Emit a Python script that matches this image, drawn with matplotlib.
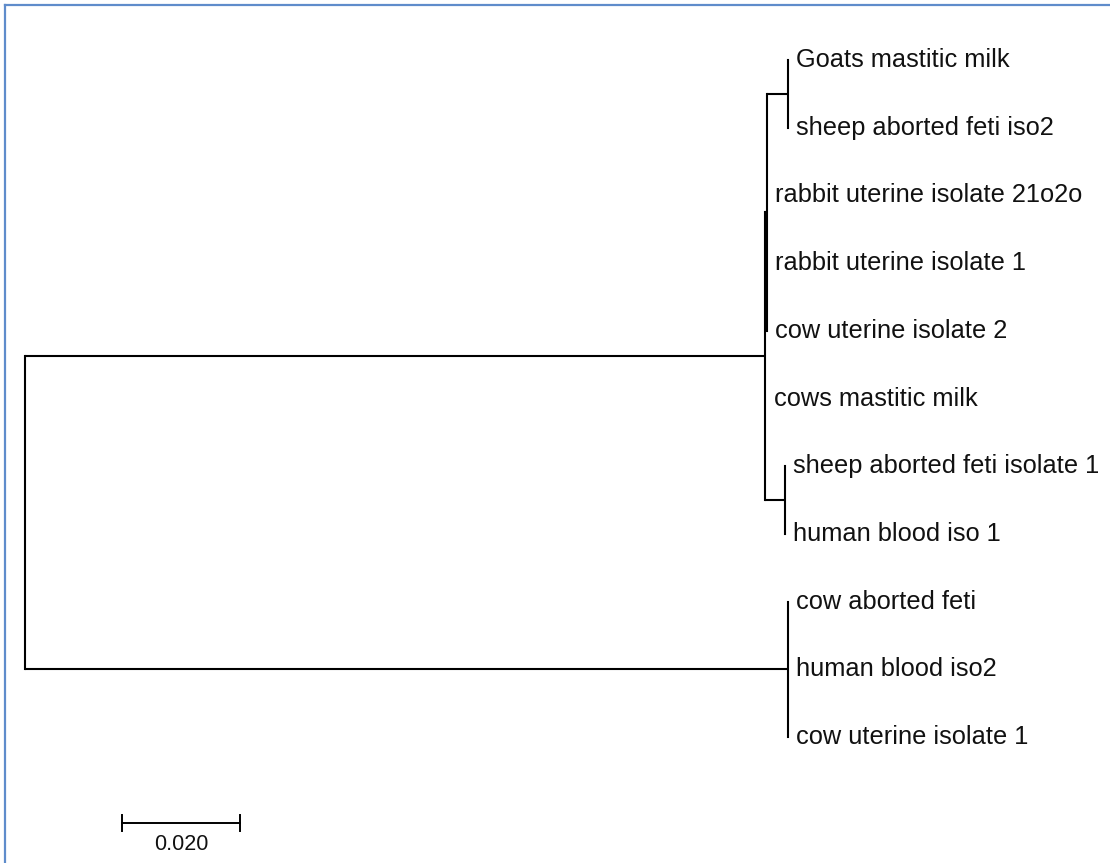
"""Neighbour-joining style tree of isolates, redrawn."""

import matplotlib
matplotlib.use('Agg')
import matplotlib.pyplot as plt
from matplotlib.lines import Line2D

plt.rcParams['font.family'] = ['Liberation Sans', 'DejaVu Sans']

# leaves, top to bottom
leaf_names = ['Goats mastitic milk', 'sheep aborted feti iso2',
              'rabbit uterine isolate 21o2o', 'rabbit uterine isolate 1',
              'cow uterine isolate 2', 'cows mastitic milk',
              'sheep aborted feti isolate 1', 'human blood iso 1',
              'cow aborted feti', 'human blood iso2', 'cow uterine isolate 1']
leaf_parent = ['G', 'G', 'B', 'B', 'B', 'U', 'H', 'H', 'L', 'L', 'L']
leaf_length = [0.0, 0.0, 0.0, 0.0, 0.0, 0.0002, 0.0, 0.0, 0.0, 0.0, 0.0]

# internal nodes
node_names = ['root', 'U', 'B', 'G', 'H', 'L']
node_parent = [None, 'root', 'U', 'B', 'U', 'root']
node_length = [0.0, 0.1254, 0.0003, 0.0036, 0.0034, 0.1293]

scale_len = 0.020
scale_label = '0.020'

# x = distance from root
xpos = {}
for n, p, l in zip(node_names, node_parent, node_length):
    xpos[n] = 0.0 if p is None else xpos[p] + l
leaf_x = [xpos[p] + l for p, l in zip(leaf_parent, leaf_length)]
leaf_y = list(range(len(leaf_names)))

# children y for each internal node (midpoint of first/last child)
child_y = {n: [] for n in node_names}
for y, p in zip(leaf_y, leaf_parent):
    child_y[p].append(y)
ypos = {}
for n in reversed(node_names):
    ys = child_y[n]
    ypos[n] = (min(ys) + max(ys)) / 2
    p = node_parent[node_names.index(n)]
    if p is not None:
        child_y[p].append(ypos[n])

PX = 5900.0   # pixels per unit of distance
ROW = 67.7    # pixels per leaf row
fig = plt.figure(figsize=(11.10, 8.63), dpi=100)
ax = fig.add_axes([0, 0, 1, 1])
ax.set_xlim(-25 / PX, 1085 / PX)
ax.set_ylim((863 - 60) / ROW, -60 / ROW)
ax.axis('off')

LW = 1.5
# horizontal branches
for n, p in zip(node_names, node_parent):
    if p is not None:
        ax.plot([xpos[p], xpos[n]], [ypos[n], ypos[n]], color='black', lw=LW,
                solid_capstyle='butt')
for x, y, p in zip(leaf_x, leaf_y, leaf_parent):
    if x > xpos[p]:
        ax.plot([xpos[p], x], [y, y], color='black', lw=LW, solid_capstyle='butt')
# vertical connectors
for n in node_names:
    ys = child_y[n]
    ax.plot([xpos[n], xpos[n]], [min(ys), max(ys)], color='black', lw=LW,
            solid_capstyle='projecting')

# leaf labels
for name, x, y in zip(leaf_names, leaf_x, leaf_y):
    ax.annotate(name, (x, y), xytext=(6.0, 0), textcoords='offset points',
                ha='left', va='center', fontsize=18.3, color='#111111')

# scale bar
sb_x0 = 97 / PX
sb_y = (823 - 60) / ROW
ax.plot([sb_x0, sb_x0 + scale_len], [sb_y, sb_y], color='black', lw=1.4)
for xx in (sb_x0, sb_x0 + scale_len):
    ax.plot([xx, xx], [sb_y - 8 / ROW, sb_y + 8 / ROW], color='black', lw=1.4)
ax.text(sb_x0 + scale_len / 2, (845 - 60) / ROW, scale_label, ha='center',
        va='center', fontsize=15.5, color='#111111')

# blue frame (top and left edges)
BLUE = '#5f8ccb'
fig.add_artist(Line2D([5 / 1110, 1.0], [1 - 5.5 / 863, 1 - 5.5 / 863],
                      color=BLUE, lw=1.6, transform=fig.transFigure))
fig.add_artist(Line2D([5 / 1110, 5 / 1110], [0.0, 1 - 5.5 / 863],
                      color=BLUE, lw=1.6, transform=fig.transFigure))

fig.savefig('out.png', dpi=100, facecolor='white')
